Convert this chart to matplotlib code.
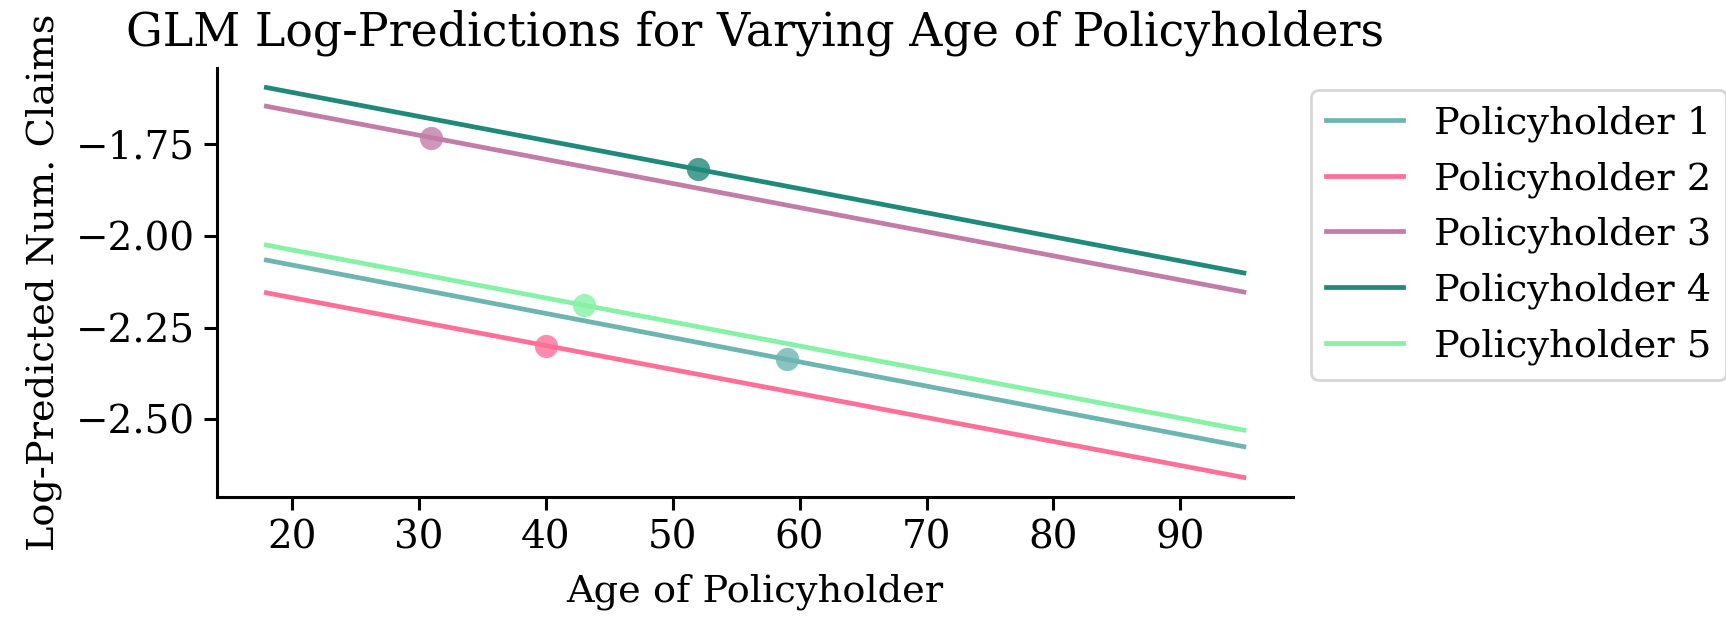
import numpy as np
import matplotlib
matplotlib.use("Agg")
from matplotlib import pyplot as plt

# GLM log-predictions at the two ends of the age grid, one per policyholder.
labels = ["Policyholder 1", "Policyholder 2", "Policyholder 3",
          "Policyholder 4", "Policyholder 5"]
age_grid = [18, 95]
pred_at_18 = [-2.066, -2.155, -1.647, -1.596, -2.025]
pred_at_95 = [-2.574, -2.658, -2.153, -2.101, -2.529]
# Each policyholder's actual age (the dot on their line).
actual_age = [59, 40, 31, 52, 43]

colors = ["#6db5b0", "#ff6f97", "#c27ca8", "#1f8a7a", "#85f2a6"]

plt.rcParams["font.family"] = "DejaVu Serif"

fig = plt.figure(figsize=(8.63, 3.085), dpi=200)
ax = fig.add_axes([0.126, 0.1945, 0.623, 0.6953])

for lab, y0, y1, age, c in zip(labels, pred_at_18, pred_at_95, actual_age, colors):
    ax.plot(age_grid, [y0, y1], color=c, lw=1.7, label=lab)
    y_age = np.interp(age, age_grid, [y0, y1])
    ax.scatter([age], [y_age], color=c, s=70, alpha=0.8, zorder=3, lw=0)

ax.set_xticks(range(20, 100, 10))
ax.set_yticks([-2.5, -2.25, -2.0, -1.75])
ax.set_yticklabels(["\u22122.50", "\u22122.25", "\u22122.00", "\u22121.75"])

for side in ["top", "right"]:
    ax.spines[side].set_visible(False)
for side in ["left", "bottom"]:
    ax.spines[side].set_linewidth(1.1)
ax.tick_params(axis="both", which="major", labelsize=14, length=4.7, width=1.1)

ax.set_title("GLM Log-Predictions for Varying Age of Policyholders", fontsize=16.5, pad=8)
ax.set_xlabel("Age of Policyholder", fontsize=13.8, labelpad=6)
ax.set_ylabel("Log-Predicted Num. Claims", fontsize=13.8, labelpad=5)

ax.legend(loc="upper left", bbox_to_anchor=(0.7596, 0.854),
          bbox_transform=fig.transFigure, borderaxespad=0, fontsize=13.8)

plt.savefig("out.png", dpi=200)
